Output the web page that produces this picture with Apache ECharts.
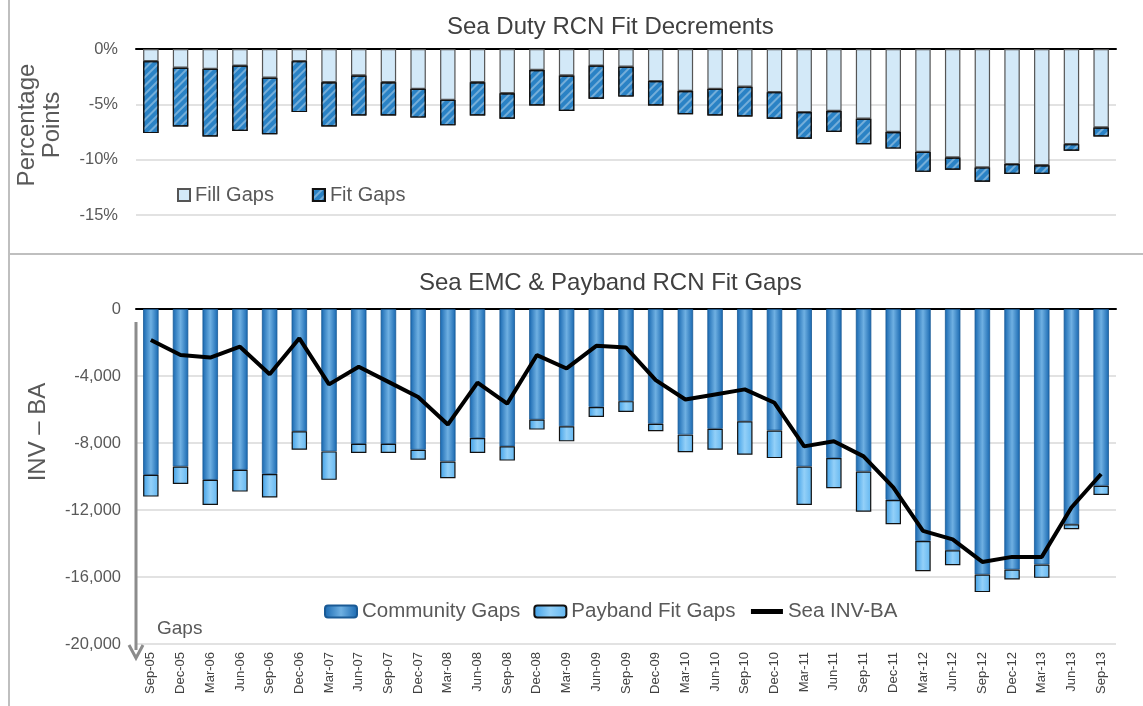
<!DOCTYPE html>
<html>
<head>
<meta charset="utf-8">
<script src="https://cdn.jsdelivr.net/npm/echarts@6/dist/echarts.min.js"></script>
<style>
  html, body { margin: 0; padding: 0; background: #fff; }
  #chart { width: 1143px; height: 706px; }
</style>
</head>
<body>
<div id="chart"></div>
<script>
const categories = ['Sep-05','Dec-05','Mar-06','Jun-06','Sep-06','Dec-06','Mar-07','Jun-07','Sep-07','Dec-07',
  'Mar-08','Jun-08','Sep-08','Dec-08','Mar-09','Jun-09','Sep-09','Dec-09','Mar-10','Jun-10','Sep-10','Dec-10',
  'Mar-11','Jun-11','Sep-11','Dec-11','Mar-12','Jun-12','Sep-12','Dec-12','Mar-13','Jun-13','Sep-13']

// top panel, percentage points
const fillGaps = [-1.1,-1.7,-1.8,-1.5,-2.6,-1.1,-3.0,-2.4,-3.0,-3.6,-4.6,-3.0,-4.0,-1.9,-2.4,-1.5,-1.6,-2.9,-3.8,-3.6,-3.4,-3.9,-5.7,-5.6,-6.3,-7.5,-9.3,-9.8,-10.7,-10.4,-10.5,-8.6,-7.1]
const fitGaps = [-6.5,-5.3,-6.1,-5.9,-5.1,-4.6,-4.0,-3.6,-3.0,-2.6,-2.3,-3.0,-2.3,-3.2,-3.2,-3.0,-2.7,-2.2,-2.1,-2.4,-2.7,-2.4,-2.4,-1.9,-2.3,-1.5,-1.8,-1.1,-1.3,-0.9,-0.8,-0.6,-0.8]

// bottom panel, INV - BA
const communityGaps = [-9900,-9400,-10200,-9600,-9850,-7300,-8500,-8050,-8050,-8400,-9100,-7700,-8200,-6600,-7000,-5850,-5500,-6850,-7500,-7150,-6700,-7250,-9400,-8900,-9700,-11400,-13850,-14400,-15850,-15550,-15250,-12850,-10550]
const paybandFitGaps = [-1300,-1050,-1500,-1300,-1400,-1100,-1700,-550,-550,-600,-1000,-900,-850,-600,-900,-600,-650,-450,-1050,-1250,-2000,-1650,-2300,-1800,-2400,-1450,-1800,-900,-1050,-600,-800,-300,-550]
const seaInvBa = [-1850,-2750,-2900,-2250,-3900,-1750,-4500,-3450,-4350,-5250,-6900,-4400,-5650,-2750,-3550,-2200,-2300,-4250,-5400,-5100,-4800,-5600,-8200,-7900,-8800,-10650,-13250,-13750,-15100,-14800,-14800,-11850,-9850]

const topTicks = [0, -5, -10, -15]
const bottomTicks = [0, -4000, -8000, -12000, -16000, -20000]

const font = 'Liberation Sans, Arial, sans-serif'
const labelColor = '#595959'

const chart = echarts.init(document.getElementById('chart'))

const topAxisLine = {
  type: 'category',
  data: categories,
  position: 'top',
  axisLine: { onZero: false, lineStyle: { color: '#000', width: 2 } },
  axisTick: { inside: true, length: 5, lineStyle: { color: '#000', width: 2 } },
  axisLabel: { show: false }
}

const communityColor = new echarts.graphic.LinearGradient(0, 0, 1, 0, [
  { offset: 0, color: '#1767b0' },
  { offset: 0.5, color: '#6fb0e2' },
  { offset: 1, color: '#1767b0' }
])
const paybandColor = new echarts.graphic.LinearGradient(0, 0, 1, 0, [
  { offset: 0, color: '#3f9fe6' },
  { offset: 0.5, color: '#93d0f8' },
  { offset: 1, color: '#62b6f0' }
])

chart.setOption({
  animation: false,
  textStyle: { fontFamily: font },
  title: [
    { text: 'Sea Duty RCN Fit Decrements', left: 442, top: 10,
      textStyle: { fontSize: 24, fontWeight: 'normal', color: '#404040' } },
    { text: 'Sea EMC & Payband RCN Fit Gaps', left: 414, top: 266,
      textStyle: { fontSize: 24, fontWeight: 'normal', color: '#404040' } }
  ],
  legend: [
    { data: ['Fill Gaps', 'Fit Gaps'], left: 172, top: 180, itemWidth: 12, itemHeight: 12, itemGap: 38,
      icon: 'rect', textStyle: { fontSize: 20, color: labelColor } },
    { data: ['Community Gaps', 'Payband Fit Gaps',
        { name: 'Sea INV-BA', itemStyle: { opacity: 0 }, lineStyle: { width: 5, color: '#000' } }],
      left: 319, top: 596, itemWidth: 32, itemHeight: 12, itemGap: 13,
      textStyle: { fontSize: 20.5, color: labelColor } }
  ],
  grid: [
    { left: 136, right: 27, top: 49, height: 166 },
    { left: 136, right: 27, top: 309, height: 335 }
  ],
  xAxis: [
    Object.assign({ gridIndex: 0 }, topAxisLine),
    Object.assign({ gridIndex: 1 }, topAxisLine),
    {
      gridIndex: 1, type: 'category', data: categories, position: 'bottom',
      axisLine: { show: false }, axisTick: { show: false },
      axisLabel: { rotate: 90, fontSize: 13, color: '#404040', margin: 8, interval: 0 }
    }
  ],
  yAxis: [
    {
      gridIndex: 0, type: 'value', min: topTicks[3], max: topTicks[0], interval: 5,
      axisLine: { show: false }, axisTick: { show: false },
      axisLabel: { formatter: '{value}%', fontSize: 16.5, color: labelColor, margin: 18 },
      splitLine: { lineStyle: { color: '#d9d9d9', width: 1.5 } }
    },
    {
      gridIndex: 1, type: 'value', min: bottomTicks[5], max: bottomTicks[0], interval: 4000,
      axisLine: { show: false }, axisTick: { show: false },
      axisLabel: { formatter: v => v.toLocaleString('en-US'), fontSize: 16.5, color: labelColor, margin: 15 },
      splitLine: { lineStyle: { color: '#d9d9d9', width: 1.5 } }
    }
  ],
  series: [
    {
      name: 'Fill Gaps', type: 'bar', stack: 'top', xAxisIndex: 0, yAxisIndex: 0,
      data: fillGaps, barWidth: '52%',
      itemStyle: { color: '#d3e9f8', borderColor: '#555', borderWidth: 1.2 }
    },
    {
      name: 'Fit Gaps', type: 'bar', stack: 'top', xAxisIndex: 0, yAxisIndex: 0,
      data: fitGaps, barWidth: '52%',
      itemStyle: {
        color: '#2a82c5', borderColor: '#111', borderWidth: 1.2,
        decal: { symbol: 'rect', symbolSize: 1, color: 'rgba(255,255,255,0.35)',
          dashArrayX: [1, 0], dashArrayY: [2, 4], rotation: -Math.PI / 4 }
      }
    },
    {
      name: 'Community Gaps', type: 'bar', stack: 'bottom', xAxisIndex: 1, yAxisIndex: 1,
      data: communityGaps, barWidth: '52%',
      itemStyle: { color: communityColor, borderColor: '#1a5a95', borderWidth: 0.8 }
    },
    {
      name: 'Payband Fit Gaps', type: 'bar', stack: 'bottom', xAxisIndex: 1, yAxisIndex: 1,
      data: paybandFitGaps, barWidth: '52%',
      itemStyle: { color: paybandColor, borderColor: '#111', borderWidth: 1.2 }
    },
    {
      name: 'Sea INV-BA', type: 'line', xAxisIndex: 1, yAxisIndex: 1,
      data: seaInvBa, symbol: 'none', z: 5,
      lineStyle: { color: '#000', width: 4 }, itemStyle: { color: '#000' }
    }
  ],
  graphic: [
    // panel frame
    { type: 'line', shape: { x1: 9, y1: 0, x2: 9, y2: 706 }, style: { stroke: '#bfbfbf', lineWidth: 2 } },
    { type: 'line', shape: { x1: 9, y1: 254, x2: 1143, y2: 254 }, style: { stroke: '#bfbfbf', lineWidth: 2 } },
    // y-axis names
    { type: 'text', x: 40, y: 125, rotation: Math.PI / 2,
      style: { text: 'Percentage\nPoints', font: '24px ' + font, fill: labelColor, align: 'center', verticalAlign: 'middle', lineHeight: 25 } },
    { type: 'text', x: 38, y: 432, rotation: Math.PI / 2,
      style: { text: 'INV – BA', font: '24px ' + font, fill: labelColor, align: 'center', verticalAlign: 'middle' } },
    // gaps arrow
    { type: 'line', shape: { x1: 136, y1: 322, x2: 136, y2: 650 }, style: { stroke: '#8c8c8c', lineWidth: 3 }, z: 10 },
    { type: 'polyline', shape: { points: [[129, 645], [136, 658], [143, 645]] }, style: { stroke: '#8c8c8c', lineWidth: 3, fill: null }, z: 10 },
    { type: 'text', x: 157, y: 619, style: { text: 'Gaps', font: '19px ' + font, fill: labelColor } }
  ]
})
</script>
</body>
</html>
